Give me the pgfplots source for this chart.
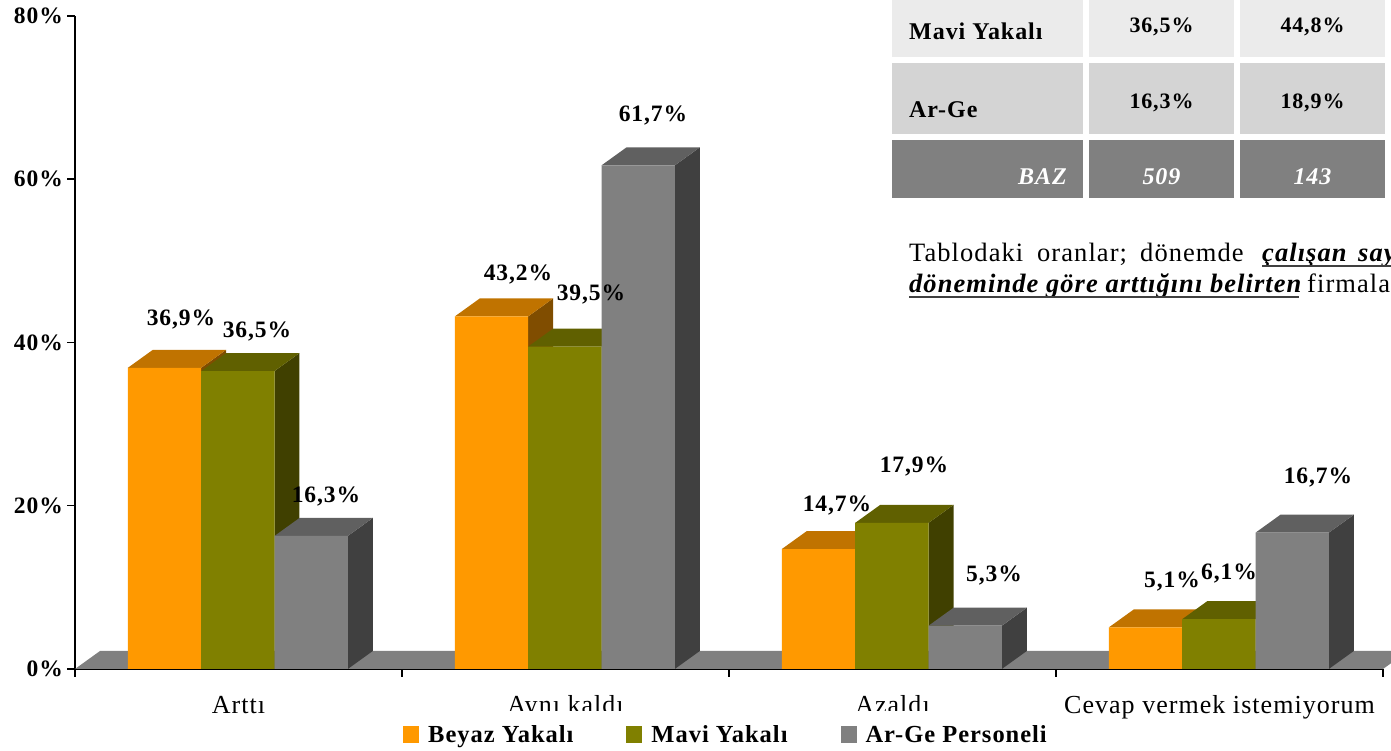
\documentclass[border=0pt]{standalone}
\usepackage{fontspec}
\setmainfont{Liberation Serif}[LetterSpace=4]
\usepackage{pgfplots}
\pgfplotsset{compat=1.18}
\definecolor{cO}{HTML}{FF9900}\definecolor{cOt}{HTML}{C07300}\definecolor{cOs}{HTML}{804D00}
\definecolor{cL}{HTML}{808000}\definecolor{cLt}{HTML}{606000}\definecolor{cLs}{HTML}{404000}
\definecolor{cG}{HTML}{808080}\definecolor{cGt}{HTML}{606060}\definecolor{cGs}{HTML}{404040}
\newcommand{\bw}{0.2242}
\newcommand{\ddx}{0.07645}
\newcommand{\ddy}{2.205}
\newcommand{\faces}[4]{%
  \pgfmathsetmacro{\xl}{#1-\bw/2}\pgfmathsetmacro{\xr}{#1+\bw/2}%
  \pgfmathsetmacro{\xla}{\xl+\ddx}\pgfmathsetmacro{\xra}{\xr+\ddx}%
  \pgfmathsetmacro{\va}{#2+\ddy}%
  \addplot[fill=#4,draw=none,forget plot] coordinates {(\xr,0)(\xra,\ddy)(\xra,\va)(\xr,#2)} -- cycle;
  \addplot[fill=#3,draw=none,forget plot] coordinates {(\xl,#2)(\xr,#2)(\xra,\va)(\xla,\va)} -- cycle;
}
\pgfplotsset{front/.style={ybar,bar width=\bw,draw=none,
  legend image code/.code={\path[##1,draw=none] (0pt,-8.5pt) rectangle (16pt,8.5pt);}}}
\newcommand{\lbl}[3]{\node[font=\fontsize{23.5}{26}\selectfont\bfseries,inner sep=0pt] at ({#1},{751-#2-2}) {#3};}
\newcommand{\cell}[5]{\fill[#5] ({#1},{751-#2}) rectangle ({#3},{751-#4});}
\begin{document}
\begin{tikzpicture}[x=1pt,y=1pt]
\clip (0,0) rectangle (1391,751);
\begin{axis}[at={(75pt,82pt)},anchor=origin,scale only axis,width=1308pt,height=653pt,
  xmin=0,xmax=4,ymin=0,ymax=80,clip=false,
  axis x line=bottom,axis y line=left,axis line style={-,line width=2pt,black},
  xtick={0,1,2,3,4},xticklabels={},
  extra x ticks={0.5,1.5,2.5,3.5},
  extra x tick labels={Arttı,Aynı kaldı,Azaldı,Cevap vermek istemiyorum},
  extra x tick style={major tick length=0pt,tick label style={font=\fontsize{26}{28}\selectfont,yshift=-29pt,text height=15pt,text depth=5pt,inner sep=0pt}},
  ytick={0,20,40,60,80},yticklabels={0\%,20\%,40\%,60\%,80\%},
  y tick label style={font=\fontsize{23.5}{26}\selectfont\bfseries,inner sep=0pt,xshift=-4pt},
  tick align=outside,major tick length=8pt,tick style={black,line width=1.5pt},
  legend columns=3,
  legend style={at={(0.2508,-0.101)},anchor=west,draw=none,fill=none,inner sep=0pt,
    font=\fontsize{24.5}{26}\selectfont\bfseries,
    /tikz/every even column/.append style={column sep=51pt},
    /tikz/every odd column/.append style={column sep=7pt}},
  legend cell align=left,
  after end axis/.code={\fill[white] (axis cs:0.994,-5.15) rectangle (axis cs:3.024,-10.05);},
]
\addplot[fill=cG,draw=none,forget plot] coordinates {(0,0)(4,0)(4.07645,2.205)(0.07645,2.205)} -- cycle;
% orange
\faces{0.2738}{36.9}{cOt}{cOs}\faces{1.2738}{43.2}{cOt}{cOs}\faces{2.2738}{14.7}{cOt}{cOs}\faces{3.2738}{5.1}{cOt}{cOs}
\addplot[front,bar shift=-0.2262,fill=cO] coordinates {(0.5,36.9)(1.5,43.2)(2.5,14.7)(3.5,5.1)};
\addlegendentry{Beyaz Yakalı}
% olive
\faces{0.498}{36.5}{cLt}{cLs}\faces{1.498}{39.5}{cLt}{cLs}\faces{2.498}{17.9}{cLt}{cLs}\faces{3.498}{6.1}{cLt}{cLs}
\addplot[front,bar shift=-0.002,fill=cL] coordinates {(0.5,36.5)(1.5,39.5)(2.5,17.9)(3.5,6.1)};
\addlegendentry{Mavi Yakalı}
% gray
\faces{0.7222}{16.3}{cGt}{cGs}\faces{1.7222}{61.7}{cGt}{cGs}\faces{2.7222}{5.3}{cGt}{cGs}\faces{3.7222}{16.7}{cGt}{cGs}
\addplot[front,bar shift=0.2222,fill=cG] coordinates {(0.5,16.3)(1.5,61.7)(2.5,5.3)(3.5,16.7)};
\addlegendentry{Ar-Ge Personeli}
\end{axis}
% data labels
\lbl{181}{318}{36,9\%}\lbl{257}{330}{36,5\%}\lbl{326}{495}{16,3\%}
\lbl{518}{273}{43,2\%}\lbl{591}{293}{39,5\%}\lbl{653}{114}{61,7\%}
\lbl{837}{504}{14,7\%}\lbl{914}{465}{17,9\%}\lbl{994}{574}{5,3\%}
\lbl{1172}{580}{5,1\%}\lbl{1229}{572}{6,1\%}\lbl{1318}{476}{16,7\%}
% table
\cell{892}{-2}{1083}{57}{black!8}\cell{1089}{-2}{1234}{57}{black!8}\cell{1240}{-2}{1385}{57}{black!8}\cell{1390.5}{-2}{1395}{57}{black!8}
\cell{892}{63}{1083}{134}{black!17}\cell{1089}{63}{1234}{134}{black!17}\cell{1240}{63}{1385}{134}{black!17}\cell{1390.5}{63}{1395}{134}{black!17}
\cell{892}{140}{1083}{198}{cG}\cell{1089}{140}{1234}{198}{cG}\cell{1240}{140}{1385}{198}{cG}\cell{1390.5}{140}{1395}{198}{cG}
\begin{scope}[every node/.style={font=\fontsize{22}{24}\selectfont\bfseries,inner sep=0pt}]
\node[anchor=base west,font=\fontsize{24}{26}\selectfont\bfseries] at (909,{751-40}) {Mavi Yakalı};
\node[anchor=base west,font=\fontsize{24}{26}\selectfont\bfseries] at (909,{751-118}) {Ar-Ge};
\node[anchor=base] at (1161.5,{751-33}) {36,5\%};
\node[anchor=base] at (1312.5,{751-33}) {44,8\%};
\node[anchor=base] at (1161.5,{751-109}) {16,3\%};
\node[anchor=base] at (1312.5,{751-109}) {18,9\%};
\node[anchor=base east,text=white,font=\fontsize{24}{26}\selectfont\bfseries\itshape] at (1067,{751-185}) {BAZ};
\node[anchor=base,text=white,font=\fontsize{24}{26}\selectfont\bfseries\itshape] at (1161.5,{751-185}) {509};
\node[anchor=base,text=white,font=\fontsize{24}{26}\selectfont\bfseries\itshape] at (1312.5,{751-185}) {143};
\end{scope}
\begin{scope}[every node/.style={anchor=base west,inner sep=0pt,font=\fontsize{26.5}{28}\selectfont}]
\node at (909,{751-262}) {Tablodaki};
\node at (1037,{751-262}) {oranlar;};
\node at (1140,{751-262}) {dönemde};
\node at (1262,{751-262}) {\bfseries\itshape çalışan};
\node at (1358,{751-262}) {\bfseries\itshape sayısının};
\node at (909,{751-293}) {\bfseries\itshape döneminde göre arttığını belirten};
\node at (1307,{751-293}) {firmalar};
\end{scope}
\draw[line width=1.5pt,black!75] (1262,{751-266}) -- (1395,{751-266});
\draw[line width=1.5pt,black!75] (909,{751-297}) -- (1299,{751-297});
\end{tikzpicture}
\end{document}
